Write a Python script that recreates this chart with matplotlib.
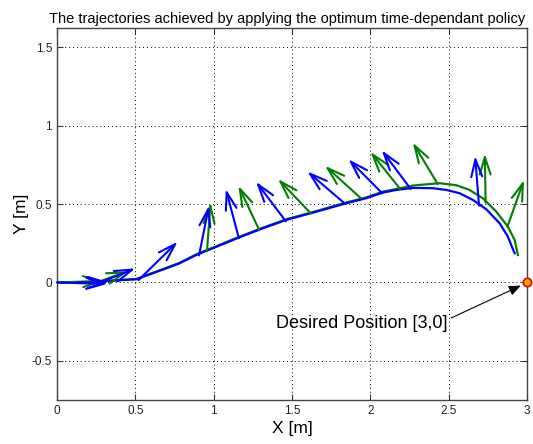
import matplotlib
matplotlib.use('Agg')
import matplotlib.pyplot as plt

plt.rcParams['font.family'] = ['Liberation Sans', 'DejaVu Sans']

# trajectories (x, y in metres)
blue_x = [0.0, 0.207, 0.356, 0.505, 0.697, 0.782, 0.888, 0.994, 1.165, 1.313, 1.463, 1.633,
          1.846, 1.973, 2.079, 2.165, 2.271, 2.398, 2.484, 2.569, 2.654, 2.739, 2.824, 2.877, 2.920]
blue_y = [0.0, 0.003, 0.012, 0.020, 0.090, 0.122, 0.175, 0.218, 0.288, 0.345, 0.399, 0.445,
          0.505, 0.537, 0.573, 0.590, 0.603, 0.601, 0.590, 0.569, 0.526, 0.467, 0.378, 0.292, 0.186]
green_x = [0.0, 0.207, 0.356, 0.505, 0.697, 0.782, 0.888, 0.994, 1.165, 1.313, 1.463, 1.633,
           1.846, 1.973, 2.079, 2.165, 2.271, 2.441, 2.548, 2.632, 2.717, 2.803, 2.877, 2.920, 2.941]
green_y = [0.0, 0.003, 0.012, 0.022, 0.093, 0.125, 0.179, 0.222, 0.292, 0.349, 0.403, 0.449,
           0.510, 0.542, 0.579, 0.596, 0.618, 0.633, 0.620, 0.590, 0.537, 0.452, 0.356, 0.271, 0.175]

# policy arrows: tail and head points
blue_tail_x = [0.0, 0.12, 0.30, 0.52, 0.906, 1.16, 1.46, 1.84, 2.076, 2.257, 2.693]
blue_tail_y = [0.0, 0.0, 0.01, 0.015, 0.172, 0.284, 0.39, 0.50, 0.568, 0.596, 0.49]
blue_head_x = [0.32, 0.33, 0.50, 0.77, 0.97, 1.077, 1.27, 1.597, 1.859, 2.072, 2.668]
blue_head_y = [-0.01, 0.0, 0.09, 0.26, 0.489, 0.596, 0.642, 0.708, 0.786, 0.843, 0.807]

green_tail_x = [0.0, 0.28, 0.957, 1.29, 1.62, 1.94, 2.19, 2.43, 2.735, 2.874]
green_tail_y = [0.0, 0.01, 0.2, 0.335, 0.44, 0.536, 0.596, 0.627, 0.51, 0.356]
green_head_x = [0.30, 0.45, 0.98, 1.157, 1.41, 1.71, 2.0, 2.27, 2.73, 2.98]
green_head_y = [0.01, 0.07, 0.51, 0.617, 0.66, 0.744, 0.833, 0.892, 0.822, 0.653]

goal = (3.0, 0.0)
x_ticks = [0, 0.5, 1, 1.5, 2, 2.5, 3]
y_ticks = [-0.5, 0, 0.5, 1, 1.5]

fig = plt.figure(figsize=(5.33, 4.44), dpi=100)
ax = fig.add_axes([0.107, 0.099, 0.882, 0.837])

blue = '#0000ff'
green = '#008000'
head = '->,head_length=0.7,head_width=0.22'

for tx, ty, hx, hy in zip(green_tail_x, green_tail_y, green_head_x, green_head_y):
    ax.annotate('', xy=(hx, hy), xytext=(tx, ty),
                arrowprops=dict(arrowstyle=head, color=green, lw=1.5,
                                mutation_scale=18, shrinkA=0, shrinkB=0))
ax.plot(green_x, green_y, color=green, lw=1.6, solid_joinstyle='round')

for tx, ty, hx, hy in zip(blue_tail_x, blue_tail_y, blue_head_x, blue_head_y):
    ax.annotate('', xy=(hx, hy), xytext=(tx, ty),
                arrowprops=dict(arrowstyle=head, color=blue, lw=1.5,
                                mutation_scale=18, shrinkA=0, shrinkB=0))
ax.plot(blue_x, blue_y, color=blue, lw=1.6, solid_joinstyle='round')

ax.plot(goal[0], goal[1], 'o', markersize=6, markerfacecolor='#ffa500',
        markeredgecolor='#e00000', markeredgewidth=1.2, clip_on=False, zorder=5)
ax.annotate('Desired Position [3,0]', xy=(2.96, -0.02), xytext=(2.49, -0.26),
            ha='right', va='center', fontsize=13,
            arrowprops=dict(arrowstyle='-|>,head_length=0.6,head_width=0.25',
                            color='black', lw=0.8, mutation_scale=12,
                            relpos=(1, 0.7), shrinkA=1, shrinkB=0))

ax.set_xlim(0, 3)
ax.set_ylim(-0.75, 1.62)
ax.set_xticks(x_ticks)
ax.set_xticklabels(['0', '0.5', '1', '1.5', '2', '2.5', '3'])
ax.set_yticks(y_ticks)
ax.set_yticklabels(['-0.5', '0', '0.5', '1', '1.5'])
ax.tick_params(direction='in', top=True, right=True, length=4, labelsize=8.5,
               labelcolor='#222222', color='#333333')
ax.grid(True, color='black', linestyle=(0, (1, 3)), lw=0.7)
for s in ax.spines.values():
    s.set_color('#444444')
    s.set_linewidth(1.0)

ax.set_xlabel('X [m]', fontsize=12.5, labelpad=3)
ax.set_ylabel('Y [m]', fontsize=12.5, labelpad=2)
ax.set_title('The trajectories achieved by applying the optimum time-dependant policy',
             fontsize=10.5, pad=4, x=0.49)

fig.savefig('out.png', dpi=100)
